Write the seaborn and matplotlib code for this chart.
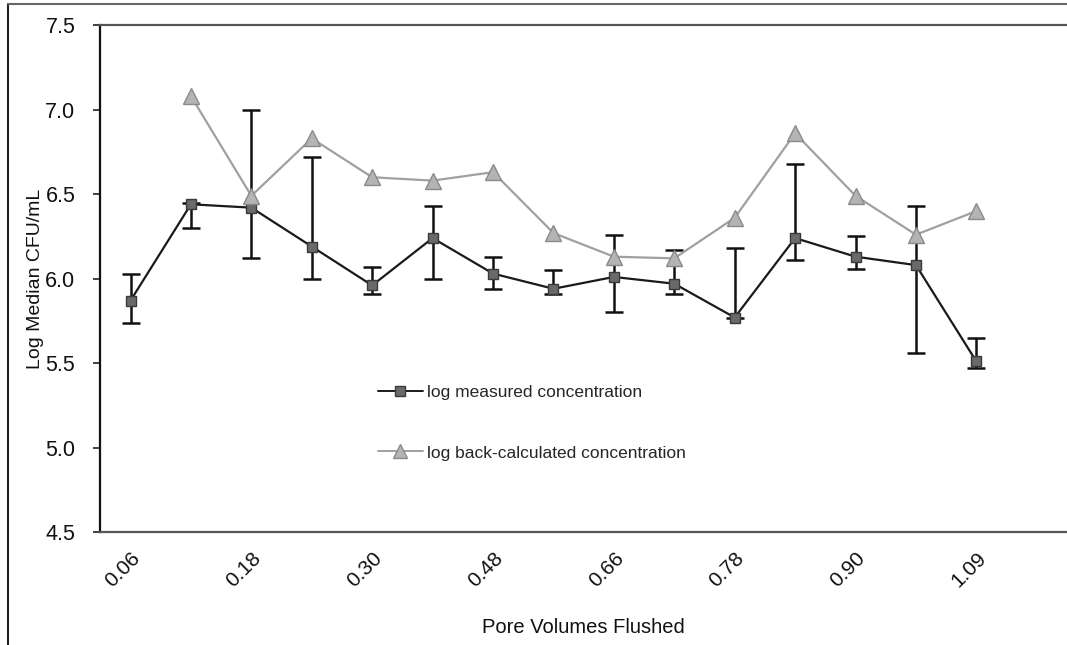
import numpy as np
import pandas as pd
import matplotlib
matplotlib.use("Agg")
import matplotlib.pyplot as plt
import seaborn as sns
from matplotlib.lines import Line2D

# Sampling events along the flush (one per collected sample)
sample_index = list(range(15))
tick_positions = [0, 2, 4, 6, 8, 10, 12, 14]
tick_labels = ["0.06", "0.18", "0.30", "0.48", "0.66", "0.78", "0.90", "1.09"]

# log median measured concentration with upper / lower range
measured = [5.87, 6.44, 6.42, 6.19, 5.96, 6.24, 6.03, 5.94, 6.01, 5.97, 5.77, 6.24, 6.13, 6.08, 5.51]
measured_hi = [6.03, 6.45, 7.00, 6.72, 6.07, 6.43, 6.13, 6.05, 6.26, 6.17, 6.18, 6.68, 6.25, 6.43, 5.65]
measured_lo = [5.74, 6.30, 6.12, 6.00, 5.91, 6.00, 5.94, 5.91, 5.80, 5.91, 5.77, 6.11, 6.06, 5.56, 5.47]

# log back-calculated concentration (no value for the first sample)
back_calc = [np.nan, 7.08, 6.49, 6.83, 6.60, 6.58, 6.63, 6.27, 6.13, 6.12, 6.36, 6.86, 6.49, 6.26, 6.40]

sns.set_theme(style="white")
plt.rcParams["font.family"] = ["Liberation Sans", "DejaVu Sans"]

fig = plt.figure(figsize=(10.67, 6.45), dpi=100)
ax = fig.add_axes([0.094, 0.175, 0.906, 0.786])

df = pd.DataFrame({
    "sample": sample_index * 2,
    "value": measured + back_calc,
    "series": ["log measured concentration"] * 15 + ["log back-calculated concentration"] * 15,
})

# error bars for the measured series
yerr = np.array([np.array(measured) - np.array(measured_lo),
                 np.array(measured_hi) - np.array(measured)])
ax.errorbar(sample_index, measured, yerr=yerr, fmt="none", ecolor="#111111",
            elinewidth=1.8, capsize=6.5, capthick=1.8, zorder=2)

sns.lineplot(data=df, x="sample", y="value", hue="series", style="series",
             palette={"log measured concentration": "#1a1a1a",
                      "log back-calculated concentration": "#a0a0a0"},
             markers={"log measured concentration": "s",
                      "log back-calculated concentration": "^"},
             dashes=False, linewidth=1.6, ax=ax, legend=False, zorder=3)

# marker styling for each series
for ln in ax.get_lines():
    if ln.get_marker() == "s":
        ln.set_markersize(7)
        ln.set_markerfacecolor("#6a6a6a")
        ln.set_markeredgecolor("#3a3a3a")
        ln.set_markeredgewidth(1.0)
    elif ln.get_marker() == "^":
        ln.set_markersize(11)
        ln.set_markerfacecolor("#b4b4b4")
        ln.set_markeredgecolor("#8a8a8a")
        ln.set_markeredgewidth(1.0)

handles = [
    Line2D([], [], color="#1a1a1a", lw=1.4, marker="s", markersize=7,
           markerfacecolor="#6a6a6a", markeredgecolor="#3a3a3a"),
    Line2D([], [], color="#a0a0a0", lw=1.4, marker="^", markersize=10,
           markerfacecolor="#b4b4b4", markeredgecolor="#8a8a8a"),
]
ax.legend(handles, ["log measured concentration", "log back-calculated concentration"],
          loc="upper left", bbox_to_anchor=(0.287, 0.29), frameon=False,
          fontsize=12.5, handlelength=2.6, handletextpad=0.25,
          labelspacing=2.6, borderpad=0, borderaxespad=0)

ax.set_xlim(-0.5, 15.5)
ax.set_ylim(4.5, 7.5)
ax.set_yticks([4.5, 5.0, 5.5, 6.0, 6.5, 7.0, 7.5])
ax.set_yticklabels(["4.5", "5.0", "5.5", "6.0", "6.5", "7.0", "7.5"], fontsize=15.5)
ax.set_xticks(tick_positions)
ax.set_xticklabels(tick_labels, rotation=45, ha="right", rotation_mode="anchor", fontsize=15)

ax.tick_params(axis="y", which="both", left=True, length=5, width=1.2, color="#222222",
               direction="out", pad=13, labelcolor="#111111")
ax.tick_params(axis="x", bottom=False, pad=6, labelcolor="#111111")

ax.set_xlabel("Pore Volumes Flushed", fontsize=14.5, color="#111111", labelpad=19)
ax.set_ylabel("Log Median CFU/mL", fontsize=14, color="#111111", labelpad=1)

ax.spines["right"].set_visible(False)
ax.spines["left"].set_color("#111111")
ax.spines["left"].set_linewidth(1.6)
ax.spines["top"].set_color("#555555")
ax.spines["top"].set_linewidth(1.6)
ax.spines["bottom"].set_color("#555555")
ax.spines["bottom"].set_linewidth(1.6)

# outer chart-area border on the left and top
fig.add_artist(Line2D([8 / 1067, 8 / 1067], [0, 1 - 4 / 645], transform=fig.transFigure,
                      color="#222222", lw=1.5))
fig.add_artist(Line2D([8 / 1067, 1], [1 - 4 / 645, 1 - 4 / 645], transform=fig.transFigure,
                      color="#666666", lw=1.5))

fig.savefig("out.png", dpi=100)
